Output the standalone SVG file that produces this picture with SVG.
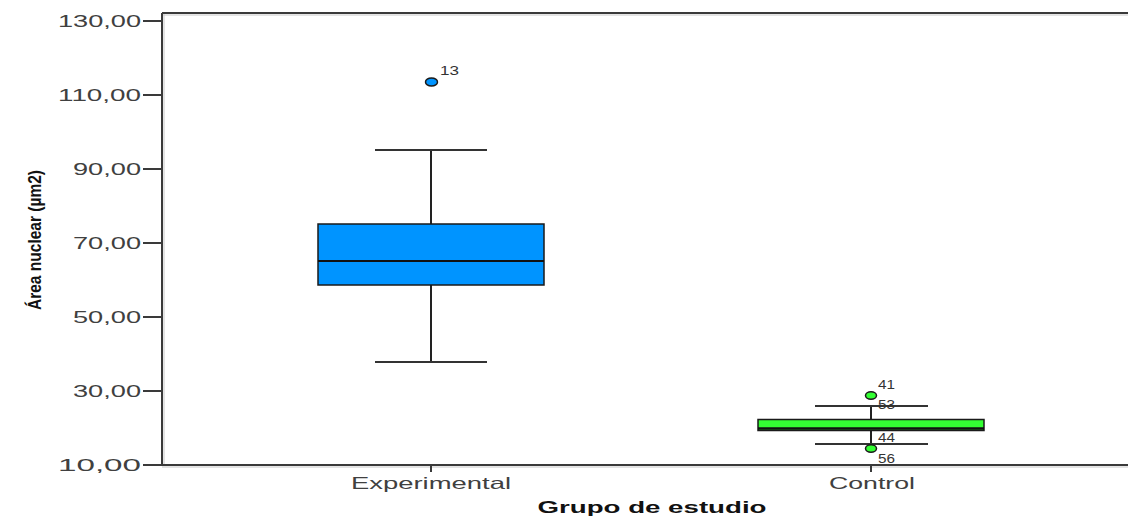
<svg xmlns="http://www.w3.org/2000/svg" width="1128" height="516" viewBox="0 0 1128 516">
<style>
.bg{fill:#ffffff}
.axis{stroke:#3a3a3a;stroke-width:2;fill:none}
.axsh{stroke:#c8c8c8;stroke-width:1;fill:none}
.tick{font-family:"Liberation Sans",Arial,sans-serif;font-size:16px;fill:#404040;text-anchor:end}
.cat{font-family:"Liberation Sans",Arial,sans-serif;font-size:16.5px;fill:#404040;text-anchor:middle}
.title{font-family:"Liberation Sans",Arial,sans-serif;font-size:17px;font-weight:bold;fill:#111111;text-anchor:middle}
.wh{stroke:#222222;stroke-width:2;fill:none}
.cap{stroke:#333333;stroke-width:2;fill:none}
.box{stroke:#1a1a1a;stroke-width:1.5}
.med{stroke:#111111;stroke-width:2}
.lab{font-family:"Liberation Sans",Arial,sans-serif;font-size:12px;fill:#333333}
.out{stroke:#1a1a1a;stroke-width:1.5}
</style>
<rect class="bg" x="0" y="0" width="1128" height="516"/>
<g id="axes">
<line class="axsh" x1="164" y1="14" x2="164" y2="465"/>
<line class="axsh" x1="162" y1="15" x2="1128" y2="15"/>
<line class="axis" x1="162" y1="13" x2="1128" y2="13"/>
<line class="axis" x1="162" y1="13" x2="162" y2="466"/>
<line class="axis" x1="161" y1="465" x2="1128" y2="465"/>
<line class="axsh" x1="162" y1="467" x2="1128" y2="467"/>
<line class="axis" x1="143" y1="21" x2="162" y2="21"/>
<line class="axis" x1="143" y1="95" x2="162" y2="95"/>
<line class="axis" x1="143" y1="169" x2="162" y2="169"/>
<line class="axis" x1="143" y1="243" x2="162" y2="243"/>
<line class="axis" x1="143" y1="317" x2="162" y2="317"/>
<line class="axis" x1="143" y1="391" x2="162" y2="391"/>
<line class="axis" x1="143" y1="465" x2="162" y2="465"/>
<line class="axis" x1="431" y1="465" x2="431" y2="472"/>
<line class="axis" x1="871" y1="465" x2="871" y2="472"/>
<text class="tick" x="141" y="27" textLength="83" lengthAdjust="spacingAndGlyphs">130,00</text>
<text class="tick" x="141" y="101" textLength="83" lengthAdjust="spacingAndGlyphs">110,00</text>
<text class="tick" x="141" y="175" textLength="68" lengthAdjust="spacingAndGlyphs">90,00</text>
<text class="tick" x="141" y="249" textLength="68" lengthAdjust="spacingAndGlyphs">70,00</text>
<text class="tick" x="141" y="323" textLength="68" lengthAdjust="spacingAndGlyphs">50,00</text>
<text class="tick" x="141" y="397" textLength="68" lengthAdjust="spacingAndGlyphs">30,00</text>
<text class="tick" x="141" y="471" textLength="83" lengthAdjust="spacingAndGlyphs">10,00</text>
<text class="cat" x="431" y="489" textLength="160" lengthAdjust="spacingAndGlyphs">Experimental</text>
<text class="cat" x="872" y="489" textLength="86" lengthAdjust="spacingAndGlyphs">Control</text>
<text class="title" x="652" y="513" textLength="229" lengthAdjust="spacingAndGlyphs">Grupo de estudio</text>
<text class="title" transform="translate(41,240) rotate(-90)" x="0" y="0" style="font-size:19px" textLength="140" lengthAdjust="spacingAndGlyphs">Área nuclear (µm2)</text>
</g>
<g id="experimental">
<line class="wh" x1="431" y1="150" x2="431" y2="224"/>
<line class="wh" x1="431" y1="285" x2="431" y2="362"/>
<line class="cap" x1="375" y1="150" x2="487" y2="150"/>
<line class="cap" x1="375" y1="362" x2="487" y2="362"/>
<rect class="box" x="318" y="224" width="226" height="61" fill="#0094ff"/>
<line class="med" x1="318" y1="261" x2="544" y2="261"/>
<ellipse class="out" cx="431.5" cy="82" rx="6" ry="4" fill="#0094ff"/>
<text class="lab" x="440" y="75" textLength="19" lengthAdjust="spacingAndGlyphs">13</text>
</g>
<g id="control">
<line class="wh" x1="871" y1="406" x2="871" y2="419"/>
<line class="wh" x1="871" y1="430" x2="871" y2="444"/>
<line class="cap" x1="815" y1="406" x2="928" y2="406"/>
<line class="cap" x1="815" y1="444" x2="928" y2="444"/>
<rect class="box" x="758" y="419.5" width="226" height="11" fill="#33ff33"/>
<line class="med" x1="758" y1="428.5" x2="984" y2="428.5" style="stroke-width:2.5"/>
<ellipse class="out" cx="871" cy="395.5" rx="5.5" ry="3.8" fill="#33ff33"/>
<ellipse class="out" cx="871" cy="448.5" rx="5.5" ry="3.8" fill="#33ff33"/>
<text class="lab" x="878" y="388.5" textLength="17" lengthAdjust="spacingAndGlyphs">41</text>
<text class="lab" x="878" y="409" textLength="17" lengthAdjust="spacingAndGlyphs">53</text>
<text class="lab" x="878" y="442" textLength="17" lengthAdjust="spacingAndGlyphs">44</text>
<text class="lab" x="878" y="463" textLength="17" lengthAdjust="spacingAndGlyphs">56</text>
</g>
</svg>
